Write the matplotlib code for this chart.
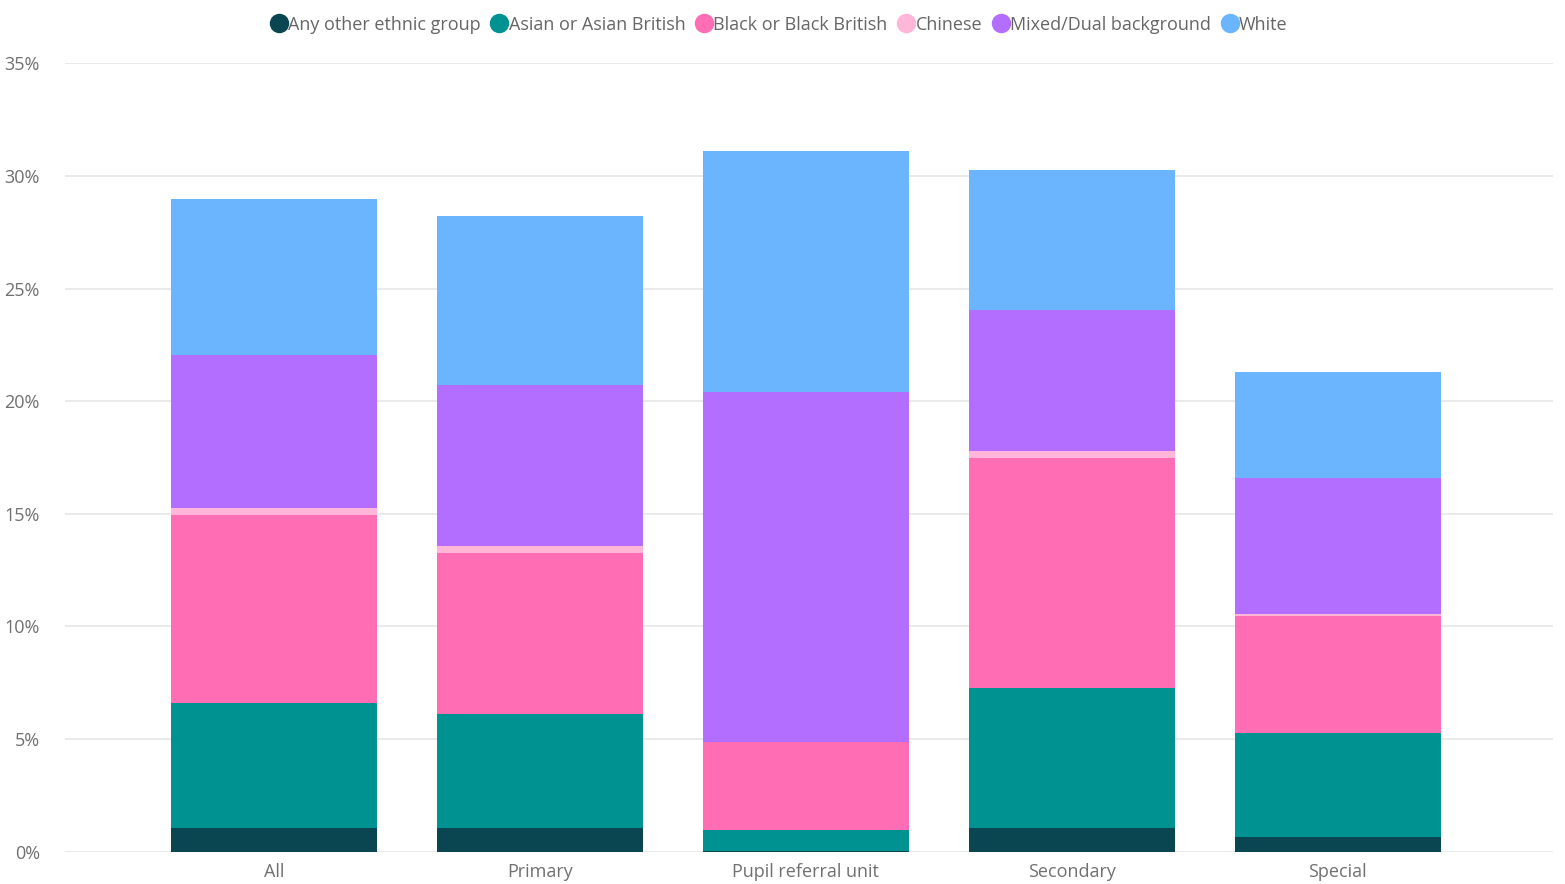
import numpy as np
import matplotlib.pyplot as plt
from matplotlib.lines import Line2D

plt.rcParams['font.family'] = ['Open Sans', 'DejaVu Sans']

phases = ['All', 'Primary', 'Pupil referral unit', 'Secondary', 'Special']
groups = ['Any other ethnic group', 'Asian or Asian British', 'Black or Black British',
          'Chinese', 'Mixed/Dual background', 'White']

# share of pupils (%) per group, stacked in this order
other = [1.07, 1.05, 0.05, 1.07, 0.67]
asian = [5.55, 5.08, 0.93, 6.21, 4.62]
black = [8.35, 7.15, 3.91, 10.18, 5.19]
chinese = [0.31, 0.27, 0.0, 0.31, 0.09]
mixed = [6.79, 7.15, 15.5, 6.30, 6.04]
white = [6.89, 7.50, 10.70, 6.18, 4.67]

colours = ['#0A4652', '#009191', '#FF6EB4', '#FFB6D8', '#B46EFF', '#6BB5FF']
series = [other, asian, black, chinese, mixed, white]

fig = plt.figure(figsize=(15.65, 8.84), dpi=100)
ax = fig.add_axes([0.0415, 0.0365, 0.9508, 0.8919])

x = np.arange(len(phases))
bottom = np.zeros(len(phases))
for vals, col in zip(series, colours):
    ax.bar(x, vals, bottom=bottom, width=0.775, color=col, linewidth=0, zorder=3)
    bottom += np.array(vals)

ax.set_xlim(-0.786, 4.81)
ax.set_ylim(0, 35)
ax.set_yticks(range(0, 36, 5))
ax.set_yticklabels([f'{v}%' for v in range(0, 36, 5)])
ax.set_xticks(x)
ax.set_xticklabels(phases)
ax.grid(axis='y', color='#E6E6E6', linewidth=1.2, zorder=0)
for s in ax.spines.values():
    s.set_visible(False)
ax.tick_params(length=0, labelsize=13, colors='#707070')
ax.tick_params(axis='y', pad=18)
ax.tick_params(axis='x', pad=8)

handles = [Line2D([], [], marker='o', linestyle='', markersize=13, color=c) for c in colours]
fig.legend(handles, groups, loc='center', bbox_to_anchor=(0.497, 0.972), ncol=6,
           frameon=False, fontsize=13, labelcolor='#666666', handletextpad=-0.1,
           columnspacing=0.45, handlelength=1.2)

fig.savefig('out.png', dpi=100)
